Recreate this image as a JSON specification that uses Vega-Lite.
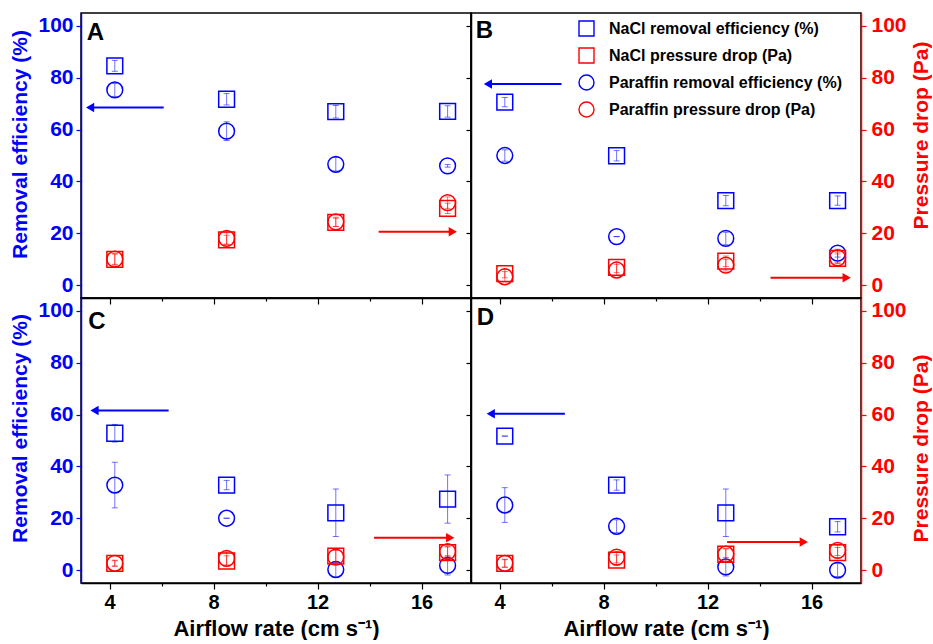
{
  "$schema": "https://vega.github.io/schema/vega-lite/v6.json",
  "background": "white",
  "padding": {"left": 9, "top": 12, "right": 0, "bottom": 0},
  "columns": 2,
  "spacing": 0,
  "bounds": "flush",
  "datasets": {
    "obs": [
      {"panel": "A", "series": "NaCl removal efficiency (%)", "kind": "eff", "x": 4.2, "y": 84.6, "lo": 82.5, "hi": 86.7},
      {"panel": "A", "series": "NaCl removal efficiency (%)", "kind": "eff", "x": 8.5, "y": 71.7, "lo": 69.5, "hi": 73.9},
      {"panel": "A", "series": "NaCl removal efficiency (%)", "kind": "eff", "x": 12.7, "y": 66.9, "lo": 64.5, "hi": 69.3},
      {"panel": "A", "series": "NaCl removal efficiency (%)", "kind": "eff", "x": 17.0, "y": 67.0, "lo": 64.8, "hi": 69.2},
      {"panel": "A", "series": "Paraffin removal efficiency (%)", "kind": "eff", "x": 4.2, "y": 75.3, "lo": 72.8, "hi": 77.8},
      {"panel": "A", "series": "Paraffin removal efficiency (%)", "kind": "eff", "x": 8.5, "y": 59.4, "lo": 55.8, "hi": 63.0},
      {"panel": "A", "series": "Paraffin removal efficiency (%)", "kind": "eff", "x": 12.7, "y": 46.6, "lo": 44.0, "hi": 49.2},
      {"panel": "A", "series": "Paraffin removal efficiency (%)", "kind": "eff", "x": 17.0, "y": 46.0, "lo": 45.5, "hi": 46.5},
      {"panel": "A", "series": "NaCl pressure drop (Pa)", "kind": "pres", "x": 4.2, "y": 9.9, "lo": 7.7, "hi": 12.1},
      {"panel": "A", "series": "NaCl pressure drop (Pa)", "kind": "pres", "x": 8.5, "y": 17.4, "lo": 15.6, "hi": 19.2},
      {"panel": "A", "series": "NaCl pressure drop (Pa)", "kind": "pres", "x": 12.7, "y": 24.2, "lo": 22.6, "hi": 25.8},
      {"panel": "A", "series": "NaCl pressure drop (Pa)", "kind": "pres", "x": 17.0, "y": 29.6, "lo": 27.6, "hi": 31.6},
      {"panel": "A", "series": "Paraffin pressure drop (Pa)", "kind": "pres", "x": 4.2, "y": 10.0, "lo": 8.0, "hi": 12.0},
      {"panel": "A", "series": "Paraffin pressure drop (Pa)", "kind": "pres", "x": 8.5, "y": 18.0, "lo": 15.8, "hi": 20.2},
      {"panel": "A", "series": "Paraffin pressure drop (Pa)", "kind": "pres", "x": 12.7, "y": 24.4, "lo": 22.6, "hi": 26.2},
      {"panel": "A", "series": "Paraffin pressure drop (Pa)", "kind": "pres", "x": 17.0, "y": 31.8, "lo": 29.6, "hi": 34.0},

      {"panel": "B", "series": "NaCl removal efficiency (%)", "kind": "eff", "x": 4.2, "y": 70.6, "lo": 68.8, "hi": 72.4},
      {"panel": "B", "series": "NaCl removal efficiency (%)", "kind": "eff", "x": 8.5, "y": 49.9, "lo": 47.9, "hi": 51.9},
      {"panel": "B", "series": "NaCl removal efficiency (%)", "kind": "eff", "x": 12.7, "y": 32.6, "lo": 30.6, "hi": 34.6},
      {"panel": "B", "series": "NaCl removal efficiency (%)", "kind": "eff", "x": 17.0, "y": 32.6, "lo": 30.8, "hi": 34.4},
      {"panel": "B", "series": "Paraffin removal efficiency (%)", "kind": "eff", "x": 4.2, "y": 50.0, "lo": 47.8, "hi": 52.2},
      {"panel": "B", "series": "Paraffin removal efficiency (%)", "kind": "eff", "x": 8.5, "y": 18.7, "lo": 18.7, "hi": 18.7},
      {"panel": "B", "series": "Paraffin removal efficiency (%)", "kind": "eff", "x": 12.7, "y": 18.0, "lo": 15.6, "hi": 20.4},
      {"panel": "B", "series": "Paraffin removal efficiency (%)", "kind": "eff", "x": 17.0, "y": 12.3, "lo": 10.8, "hi": 13.8},
      {"panel": "B", "series": "NaCl pressure drop (Pa)", "kind": "pres", "x": 4.2, "y": 4.4, "lo": 2.8, "hi": 6.0},
      {"panel": "B", "series": "NaCl pressure drop (Pa)", "kind": "pres", "x": 8.5, "y": 6.8, "lo": 4.8, "hi": 8.8},
      {"panel": "B", "series": "NaCl pressure drop (Pa)", "kind": "pres", "x": 12.7, "y": 9.2, "lo": 7.2, "hi": 11.2},
      {"panel": "B", "series": "NaCl pressure drop (Pa)", "kind": "pres", "x": 17.0, "y": 10.3, "lo": 8.6, "hi": 12.0},
      {"panel": "B", "series": "Paraffin pressure drop (Pa)", "kind": "pres", "x": 4.2, "y": 3.2, "lo": 1.2, "hi": 5.2},
      {"panel": "B", "series": "Paraffin pressure drop (Pa)", "kind": "pres", "x": 8.5, "y": 5.8, "lo": 3.6, "hi": 8.0},
      {"panel": "B", "series": "Paraffin pressure drop (Pa)", "kind": "pres", "x": 12.7, "y": 7.7, "lo": 5.4, "hi": 10.0},
      {"panel": "B", "series": "Paraffin pressure drop (Pa)", "kind": "pres", "x": 17.0, "y": 10.5, "lo": 8.3, "hi": 12.7},

      {"panel": "C", "series": "NaCl removal efficiency (%)", "kind": "eff", "x": 4.2, "y": 52.8, "lo": 49.4, "hi": 56.2},
      {"panel": "C", "series": "NaCl removal efficiency (%)", "kind": "eff", "x": 8.5, "y": 32.8, "lo": 31.0, "hi": 34.6},
      {"panel": "C", "series": "NaCl removal efficiency (%)", "kind": "eff", "x": 12.7, "y": 22.1, "lo": 12.9, "hi": 31.3},
      {"panel": "C", "series": "NaCl removal efficiency (%)", "kind": "eff", "x": 17.0, "y": 27.4, "lo": 18.1, "hi": 36.7},
      {"panel": "C", "series": "Paraffin removal efficiency (%)", "kind": "eff", "x": 4.2, "y": 32.8, "lo": 24.0, "hi": 41.6},
      {"panel": "C", "series": "Paraffin removal efficiency (%)", "kind": "eff", "x": 8.5, "y": 20.0, "lo": 20.0, "hi": 20.0},
      {"panel": "C", "series": "Paraffin removal efficiency (%)", "kind": "eff", "x": 12.7, "y": 0.2, "lo": -2.8, "hi": 3.2},
      {"panel": "C", "series": "Paraffin removal efficiency (%)", "kind": "eff", "x": 17.0, "y": 1.8, "lo": -1.9, "hi": 5.5},
      {"panel": "C", "series": "NaCl pressure drop (Pa)", "kind": "pres", "x": 4.2, "y": 2.6, "lo": 1.6, "hi": 3.6},
      {"panel": "C", "series": "NaCl pressure drop (Pa)", "kind": "pres", "x": 8.5, "y": 3.5, "lo": 1.5, "hi": 5.5},
      {"panel": "C", "series": "NaCl pressure drop (Pa)", "kind": "pres", "x": 12.7, "y": 5.4, "lo": 3.0, "hi": 7.8},
      {"panel": "C", "series": "NaCl pressure drop (Pa)", "kind": "pres", "x": 17.0, "y": 6.7, "lo": 4.5, "hi": 8.9},
      {"panel": "C", "series": "Paraffin pressure drop (Pa)", "kind": "pres", "x": 4.2, "y": 2.6, "lo": 1.4, "hi": 3.8},
      {"panel": "C", "series": "Paraffin pressure drop (Pa)", "kind": "pres", "x": 8.5, "y": 4.5, "lo": 2.0, "hi": 7.0},
      {"panel": "C", "series": "Paraffin pressure drop (Pa)", "kind": "pres", "x": 12.7, "y": 5.0, "lo": 2.4, "hi": 7.6},
      {"panel": "C", "series": "Paraffin pressure drop (Pa)", "kind": "pres", "x": 17.0, "y": 7.1, "lo": 5.1, "hi": 9.1},

      {"panel": "D", "series": "NaCl removal efficiency (%)", "kind": "eff", "x": 4.2, "y": 51.7, "lo": 51.7, "hi": 51.7},
      {"panel": "D", "series": "NaCl removal efficiency (%)", "kind": "eff", "x": 8.5, "y": 32.8, "lo": 30.8, "hi": 34.8},
      {"panel": "D", "series": "NaCl removal efficiency (%)", "kind": "eff", "x": 12.7, "y": 22.1, "lo": 12.9, "hi": 31.3},
      {"panel": "D", "series": "NaCl removal efficiency (%)", "kind": "eff", "x": 17.0, "y": 16.7, "lo": 14.7, "hi": 18.7},
      {"panel": "D", "series": "Paraffin removal efficiency (%)", "kind": "eff", "x": 4.2, "y": 25.1, "lo": 18.4, "hi": 31.8},
      {"panel": "D", "series": "Paraffin removal efficiency (%)", "kind": "eff", "x": 8.5, "y": 16.9, "lo": 14.4, "hi": 19.4},
      {"panel": "D", "series": "Paraffin removal efficiency (%)", "kind": "eff", "x": 12.7, "y": 1.2, "lo": -2.3, "hi": 4.7},
      {"panel": "D", "series": "Paraffin removal efficiency (%)", "kind": "eff", "x": 17.0, "y": 0.0, "lo": -2.5, "hi": 2.5},
      {"panel": "D", "series": "NaCl pressure drop (Pa)", "kind": "pres", "x": 4.2, "y": 2.6, "lo": 1.2, "hi": 4.0},
      {"panel": "D", "series": "NaCl pressure drop (Pa)", "kind": "pres", "x": 8.5, "y": 3.8, "lo": 1.8, "hi": 5.8},
      {"panel": "D", "series": "NaCl pressure drop (Pa)", "kind": "pres", "x": 12.7, "y": 6.1, "lo": 4.1, "hi": 8.1},
      {"panel": "D", "series": "NaCl pressure drop (Pa)", "kind": "pres", "x": 17.0, "y": 6.7, "lo": 4.7, "hi": 8.7},
      {"panel": "D", "series": "Paraffin pressure drop (Pa)", "kind": "pres", "x": 4.2, "y": 2.6, "lo": 1.0, "hi": 4.2},
      {"panel": "D", "series": "Paraffin pressure drop (Pa)", "kind": "pres", "x": 8.5, "y": 5.0, "lo": 2.8, "hi": 7.2},
      {"panel": "D", "series": "Paraffin pressure drop (Pa)", "kind": "pres", "x": 12.7, "y": 6.1, "lo": 3.9, "hi": 8.3},
      {"panel": "D", "series": "Paraffin pressure drop (Pa)", "kind": "pres", "x": 17.0, "y": 7.6, "lo": 5.6, "hi": 9.6}
    ],
    "arrows": [
      {"panel": "A", "kind": "eff", "xl": 3.25, "xr": 6.08, "y": 68.5},
      {"panel": "A", "kind": "pres", "xl": 14.35, "xr": 17.2, "y": 20.6},
      {"panel": "B", "kind": "eff", "xl": 3.55, "xr": 6.38, "y": 77.6},
      {"panel": "B", "kind": "pres", "xl": 14.42, "xr": 17.35, "y": 2.8},
      {"panel": "C", "kind": "eff", "xl": 3.42, "xr": 6.27, "y": 61.6},
      {"panel": "C", "kind": "pres", "xl": 14.17, "xr": 17.1, "y": 12.5},
      {"panel": "D", "kind": "eff", "xl": 3.66, "xr": 6.51, "y": 60.3},
      {"panel": "D", "kind": "pres", "xl": 12.75, "xr": 15.7, "y": 10.8}
    ]
  },
  "concat": [
    {
      "width": 390, "height": 285,
      "resolve": {"scale": {"y": "independent"}},
      "layer": [
        {"layer": [
          {"data": {"name": "obs"}, "transform": [{"filter": "datum.panel === 'A' && datum.kind === 'eff'"}],
           "mark": {"type": "rule", "color": "#0000ff", "strokeWidth": 1, "opacity": 0.55},
           "encoding": {
             "x": {"field": "x", "type": "quantitative", "scale": {"domain": [2.9, 17.9], "nice": false, "zero": false},
                   "axis": {"values": [4, 6, 8, 10, 12, 14, 16], "labels": false, "title": null, "domainColor": "black", "tickColor": "black", "tickSize": {"condition": {"test": "datum.value % 4 === 0", "value": 6}, "value": 3}}},
             "y": {"field": "lo", "type": "quantitative", "scale": {"domain": [-5, 105], "nice": false, "zero": false},
                   "axis": {"orient": "left", "values": [0, 10, 20, 30, 40, 50, 60, 70, 80, 90, 100], "labelExpr": "datum.value % 20 === 0 ? datum.label : ''", "title": "Removal efficiency (%)", "titleY": 131, "domainColor": "#0000ff", "tickColor": "#0000ff", "labelColor": "#0000ff", "titleColor": "#0000ff", "labelFontSize": 21, "titleFontSize": 21, "titlePadding": 7, "tickSize": {"condition": {"test": "datum.value % 20 === 0", "value": 5}, "value": 3}}},
             "y2": {"field": "hi"}
           }},
          {"data": {"name": "obs"}, "transform": [{"filter": "datum.panel === 'A' && datum.kind === 'eff'"}],
           "mark": {"type": "tick", "orient": "horizontal", "color": "#0000ff", "size": 6, "thickness": 1, "opacity": 0.55},
           "encoding": {"x": {"field": "x", "type": "quantitative"}, "y": {"field": "lo", "type": "quantitative"}}},
          {"data": {"name": "obs"}, "transform": [{"filter": "datum.panel === 'A' && datum.kind === 'eff'"}],
           "mark": {"type": "tick", "orient": "horizontal", "color": "#0000ff", "size": 6, "thickness": 1, "opacity": 0.55},
           "encoding": {"x": {"field": "x", "type": "quantitative"}, "y": {"field": "hi", "type": "quantitative"}}},
          {"data": {"name": "obs"}, "transform": [{"filter": "datum.panel === 'A' && datum.kind === 'eff'"}],
           "mark": {"type": "point", "size": 250, "strokeWidth": 1.5, "opacity": 1},
           "encoding": {
             "x": {"field": "x", "type": "quantitative"},
             "y": {"field": "y", "type": "quantitative"},
             "color": {"field": "series", "type": "nominal", "title": null, "scale": {"domain": ["NaCl removal efficiency (%)", "NaCl pressure drop (Pa)", "Paraffin removal efficiency (%)", "Paraffin pressure drop (Pa)"], "range": ["#0000ff", "#ff0000", "#0000ff", "#ff0000"]}},
             "shape": {"field": "series", "type": "nominal", "title": null, "scale": {"domain": ["NaCl removal efficiency (%)", "NaCl pressure drop (Pa)", "Paraffin removal efficiency (%)", "Paraffin pressure drop (Pa)"], "range": ["square", "square", "circle", "circle"]}}
           }},
          {"data": {"name": "arrows"}, "transform": [{"filter": "datum.panel === 'A' && datum.kind === 'eff'"}],
           "mark": {"type": "rule", "color": "#0000ff", "strokeWidth": 2},
           "encoding": {"x": {"field": "xl", "type": "quantitative"}, "x2": {"field": "xr"}, "y": {"field": "y", "type": "quantitative"}}},
          {"data": {"name": "arrows"}, "transform": [{"filter": "datum.panel === 'A' && datum.kind === 'eff'"}],
           "mark": {"type": "point", "shape": "triangle-left", "filled": true, "color": "#0000ff", "size": 90, "opacity": 1},
           "encoding": {"x": {"field": "xl", "type": "quantitative"}, "y": {"field": "y", "type": "quantitative"}}},
          {"data": {"values": [{"letter": "A"}]},
           "mark": {"type": "text", "fontSize": 24, "fontWeight": "bold", "align": "left", "baseline": "top", "color": "black"},
           "encoding": {"text": {"field": "letter"}, "x": {"datum": 3.12, "type": "quantitative"}, "y": {"datum": 102, "type": "quantitative"}}}
        ]},
        {"layer": [
          {"data": {"name": "obs"}, "transform": [{"filter": "datum.panel === 'A' && datum.kind === 'pres'"}],
           "mark": {"type": "rule", "color": "#ff0000", "strokeWidth": 1, "opacity": 0.55},
           "encoding": {
             "x": {"field": "x", "type": "quantitative"},
             "y": {"field": "lo", "type": "quantitative", "scale": {"domain": [-5, 105], "nice": false, "zero": false}, "axis": null},
             "y2": {"field": "hi"}
           }},
          {"data": {"name": "obs"}, "transform": [{"filter": "datum.panel === 'A' && datum.kind === 'pres'"}],
           "mark": {"type": "tick", "orient": "horizontal", "color": "#ff0000", "size": 6, "thickness": 1, "opacity": 0.55},
           "encoding": {"x": {"field": "x", "type": "quantitative"}, "y": {"field": "lo", "type": "quantitative", "axis": null}}},
          {"data": {"name": "obs"}, "transform": [{"filter": "datum.panel === 'A' && datum.kind === 'pres'"}],
           "mark": {"type": "tick", "orient": "horizontal", "color": "#ff0000", "size": 6, "thickness": 1, "opacity": 0.55},
           "encoding": {"x": {"field": "x", "type": "quantitative"}, "y": {"field": "hi", "type": "quantitative", "axis": null}}},
          {"data": {"name": "obs"}, "transform": [{"filter": "datum.panel === 'A' && datum.kind === 'pres'"}],
           "mark": {"type": "point", "size": 250, "strokeWidth": 1.5, "opacity": 1},
           "encoding": {
             "x": {"field": "x", "type": "quantitative"},
             "y": {"field": "y", "type": "quantitative", "axis": null},
             "color": {"field": "series", "type": "nominal", "title": null, "scale": {"domain": ["NaCl removal efficiency (%)", "NaCl pressure drop (Pa)", "Paraffin removal efficiency (%)", "Paraffin pressure drop (Pa)"], "range": ["#0000ff", "#ff0000", "#0000ff", "#ff0000"]}},
             "shape": {"field": "series", "type": "nominal", "title": null, "scale": {"domain": ["NaCl removal efficiency (%)", "NaCl pressure drop (Pa)", "Paraffin removal efficiency (%)", "Paraffin pressure drop (Pa)"], "range": ["square", "square", "circle", "circle"]}}
           }},
          {"data": {"name": "arrows"}, "transform": [{"filter": "datum.panel === 'A' && datum.kind === 'pres'"}],
           "mark": {"type": "rule", "color": "#ff0000", "strokeWidth": 2},
           "encoding": {"x": {"field": "xl", "type": "quantitative"}, "x2": {"field": "xr"}, "y": {"field": "y", "type": "quantitative", "axis": null}}},
          {"data": {"name": "arrows"}, "transform": [{"filter": "datum.panel === 'A' && datum.kind === 'pres'"}],
           "mark": {"type": "point", "shape": "triangle-right", "filled": true, "color": "#ff0000", "size": 90, "opacity": 1},
           "encoding": {"x": {"field": "xr", "type": "quantitative"}, "y": {"field": "y", "type": "quantitative", "axis": null}}}
        ]}
      ]
    },
    {
      "width": 390, "height": 285,
      "resolve": {"scale": {"y": "independent"}},
      "layer": [
        {"layer": [
          {"data": {"name": "obs"}, "transform": [{"filter": "datum.panel === 'B' && datum.kind === 'eff'"}],
           "mark": {"type": "rule", "color": "#0000ff", "strokeWidth": 1, "opacity": 0.55},
           "encoding": {
             "x": {"field": "x", "type": "quantitative", "scale": {"domain": [2.9, 17.9], "nice": false, "zero": false},
                   "axis": {"values": [4, 6, 8, 10, 12, 14, 16], "labels": false, "title": null, "domainColor": "black", "tickColor": "black", "tickSize": {"condition": {"test": "datum.value % 4 === 0", "value": 6}, "value": 3}}},
             "y": {"field": "lo", "type": "quantitative", "scale": {"domain": [-5, 105], "nice": false, "zero": false},
                   "axis": {"orient": "left", "values": [0, 10, 20, 30, 40, 50, 60, 70, 80, 90, 100], "labels": false, "title": null, "domainColor": "black", "tickColor": "black", "tickSize": {"condition": {"test": "datum.value % 20 === 0", "value": 5}, "value": 3}}},
             "y2": {"field": "hi"}
           }},
          {"data": {"name": "obs"}, "transform": [{"filter": "datum.panel === 'B' && datum.kind === 'eff'"}],
           "mark": {"type": "tick", "orient": "horizontal", "color": "#0000ff", "size": 6, "thickness": 1, "opacity": 0.55},
           "encoding": {"x": {"field": "x", "type": "quantitative"}, "y": {"field": "lo", "type": "quantitative"}}},
          {"data": {"name": "obs"}, "transform": [{"filter": "datum.panel === 'B' && datum.kind === 'eff'"}],
           "mark": {"type": "tick", "orient": "horizontal", "color": "#0000ff", "size": 6, "thickness": 1, "opacity": 0.55},
           "encoding": {"x": {"field": "x", "type": "quantitative"}, "y": {"field": "hi", "type": "quantitative"}}},
          {"data": {"name": "obs"}, "transform": [{"filter": "datum.panel === 'B' && datum.kind === 'eff'"}],
           "mark": {"type": "point", "size": 250, "strokeWidth": 1.5, "opacity": 1},
           "encoding": {
             "x": {"field": "x", "type": "quantitative"},
             "y": {"field": "y", "type": "quantitative"},
             "color": {"field": "series", "type": "nominal", "title": null, "scale": {"domain": ["NaCl removal efficiency (%)", "NaCl pressure drop (Pa)", "Paraffin removal efficiency (%)", "Paraffin pressure drop (Pa)"], "range": ["#0000ff", "#ff0000", "#0000ff", "#ff0000"]}},
             "shape": {"field": "series", "type": "nominal", "title": null, "scale": {"domain": ["NaCl removal efficiency (%)", "NaCl pressure drop (Pa)", "Paraffin removal efficiency (%)", "Paraffin pressure drop (Pa)"], "range": ["square", "square", "circle", "circle"]}}
           }},
          {"data": {"name": "arrows"}, "transform": [{"filter": "datum.panel === 'B' && datum.kind === 'eff'"}],
           "mark": {"type": "rule", "color": "#0000ff", "strokeWidth": 2},
           "encoding": {"x": {"field": "xl", "type": "quantitative"}, "x2": {"field": "xr"}, "y": {"field": "y", "type": "quantitative"}}},
          {"data": {"name": "arrows"}, "transform": [{"filter": "datum.panel === 'B' && datum.kind === 'eff'"}],
           "mark": {"type": "point", "shape": "triangle-left", "filled": true, "color": "#0000ff", "size": 90, "opacity": 1},
           "encoding": {"x": {"field": "xl", "type": "quantitative"}, "y": {"field": "y", "type": "quantitative"}}},
          {"data": {"values": [{"letter": "B"}]},
           "mark": {"type": "text", "fontSize": 24, "fontWeight": "bold", "align": "left", "baseline": "top", "color": "black"},
           "encoding": {"text": {"field": "letter"}, "x": {"datum": 3.08, "type": "quantitative"}, "y": {"datum": 102.5, "type": "quantitative"}}}
        ]},
        {"layer": [
          {"data": {"name": "obs"}, "transform": [{"filter": "datum.panel === 'B' && datum.kind === 'pres'"}],
           "mark": {"type": "rule", "color": "#ff0000", "strokeWidth": 1, "opacity": 0.55},
           "encoding": {
             "x": {"field": "x", "type": "quantitative"},
             "y": {"field": "lo", "type": "quantitative", "scale": {"domain": [-5, 105], "nice": false, "zero": false},
                   "axis": {"orient": "right", "values": [0, 10, 20, 30, 40, 50, 60, 70, 80, 90, 100], "labelExpr": "datum.value % 20 === 0 ? datum.label : ''", "title": "Pressure drop (Pa)", "titleAngle": 270, "titleBaseline": "top", "titleY": 122, "domainColor": "#ff0000", "tickColor": "#ff0000", "labelColor": "#ff0000", "titleColor": "#ff0000", "labelFontSize": 21, "labelPadding": 5, "titleFontSize": 21, "titlePadding": 4, "tickSize": {"condition": {"test": "datum.value % 20 === 0", "value": 5}, "value": 3}}},
             "y2": {"field": "hi"}
           }},
          {"data": {"name": "obs"}, "transform": [{"filter": "datum.panel === 'B' && datum.kind === 'pres'"}],
           "mark": {"type": "tick", "orient": "horizontal", "color": "#ff0000", "size": 6, "thickness": 1, "opacity": 0.55},
           "encoding": {"x": {"field": "x", "type": "quantitative"}, "y": {"field": "lo", "type": "quantitative"}}},
          {"data": {"name": "obs"}, "transform": [{"filter": "datum.panel === 'B' && datum.kind === 'pres'"}],
           "mark": {"type": "tick", "orient": "horizontal", "color": "#ff0000", "size": 6, "thickness": 1, "opacity": 0.55},
           "encoding": {"x": {"field": "x", "type": "quantitative"}, "y": {"field": "hi", "type": "quantitative"}}},
          {"data": {"name": "obs"}, "transform": [{"filter": "datum.panel === 'B' && datum.kind === 'pres'"}],
           "mark": {"type": "point", "size": 250, "strokeWidth": 1.5, "opacity": 1},
           "encoding": {
             "x": {"field": "x", "type": "quantitative"},
             "y": {"field": "y", "type": "quantitative"},
             "color": {"field": "series", "type": "nominal", "title": null, "scale": {"domain": ["NaCl removal efficiency (%)", "NaCl pressure drop (Pa)", "Paraffin removal efficiency (%)", "Paraffin pressure drop (Pa)"], "range": ["#0000ff", "#ff0000", "#0000ff", "#ff0000"]}},
             "shape": {"field": "series", "type": "nominal", "title": null, "scale": {"domain": ["NaCl removal efficiency (%)", "NaCl pressure drop (Pa)", "Paraffin removal efficiency (%)", "Paraffin pressure drop (Pa)"], "range": ["square", "square", "circle", "circle"]}}
           }},
          {"data": {"name": "arrows"}, "transform": [{"filter": "datum.panel === 'B' && datum.kind === 'pres'"}],
           "mark": {"type": "rule", "color": "#ff0000", "strokeWidth": 2},
           "encoding": {"x": {"field": "xl", "type": "quantitative"}, "x2": {"field": "xr"}, "y": {"field": "y", "type": "quantitative"}}},
          {"data": {"name": "arrows"}, "transform": [{"filter": "datum.panel === 'B' && datum.kind === 'pres'"}],
           "mark": {"type": "point", "shape": "triangle-right", "filled": true, "color": "#ff0000", "size": 90, "opacity": 1},
           "encoding": {"x": {"field": "xr", "type": "quantitative"}, "y": {"field": "y", "type": "quantitative"}}}
        ]}
      ]
    },
    {
      "width": 390, "height": 285,
      "resolve": {"scale": {"y": "independent"}},
      "layer": [
        {"layer": [
          {"data": {"name": "obs"}, "transform": [{"filter": "datum.panel === 'C' && datum.kind === 'eff'"}],
           "mark": {"type": "rule", "color": "#0000ff", "strokeWidth": 1, "opacity": 0.55},
           "encoding": {
             "x": {"field": "x", "type": "quantitative", "scale": {"domain": [2.9, 17.9], "nice": false, "zero": false},
                   "axis": {"values": [4, 6, 8, 10, 12, 14, 16], "labelExpr": "datum.value % 4 === 0 ? datum.label : ''", "title": "Airflow rate (cm s⁻¹)", "domainColor": "black", "tickColor": "black", "labelColor": "black", "titleColor": "black", "labelFontSize": 20, "titleFontSize": 22, "labelPadding": 3, "titlePadding": 6, "tickSize": {"condition": {"test": "datum.value % 4 === 0", "value": 6}, "value": 3}}},
             "y": {"field": "lo", "type": "quantitative", "scale": {"domain": [-5, 105], "nice": false, "zero": false},
                   "axis": {"orient": "left", "values": [0, 10, 20, 30, 40, 50, 60, 70, 80, 90, 100], "labelExpr": "datum.value % 20 === 0 ? datum.label : ''", "title": "Removal efficiency (%)", "titleY": 130, "domainColor": "#0000ff", "tickColor": "#0000ff", "labelColor": "#0000ff", "titleColor": "#0000ff", "labelFontSize": 21, "titleFontSize": 21, "titlePadding": 7, "tickSize": {"condition": {"test": "datum.value % 20 === 0", "value": 5}, "value": 3}}},
             "y2": {"field": "hi"}
           }},
          {"data": {"name": "obs"}, "transform": [{"filter": "datum.panel === 'C' && datum.kind === 'eff'"}],
           "mark": {"type": "tick", "orient": "horizontal", "color": "#0000ff", "size": 6, "thickness": 1, "opacity": 0.55},
           "encoding": {"x": {"field": "x", "type": "quantitative"}, "y": {"field": "lo", "type": "quantitative"}}},
          {"data": {"name": "obs"}, "transform": [{"filter": "datum.panel === 'C' && datum.kind === 'eff'"}],
           "mark": {"type": "tick", "orient": "horizontal", "color": "#0000ff", "size": 6, "thickness": 1, "opacity": 0.55},
           "encoding": {"x": {"field": "x", "type": "quantitative"}, "y": {"field": "hi", "type": "quantitative"}}},
          {"data": {"name": "obs"}, "transform": [{"filter": "datum.panel === 'C' && datum.kind === 'eff'"}],
           "mark": {"type": "point", "size": 250, "strokeWidth": 1.5, "opacity": 1},
           "encoding": {
             "x": {"field": "x", "type": "quantitative"},
             "y": {"field": "y", "type": "quantitative"},
             "color": {"field": "series", "type": "nominal", "title": null, "scale": {"domain": ["NaCl removal efficiency (%)", "NaCl pressure drop (Pa)", "Paraffin removal efficiency (%)", "Paraffin pressure drop (Pa)"], "range": ["#0000ff", "#ff0000", "#0000ff", "#ff0000"]}},
             "shape": {"field": "series", "type": "nominal", "title": null, "scale": {"domain": ["NaCl removal efficiency (%)", "NaCl pressure drop (Pa)", "Paraffin removal efficiency (%)", "Paraffin pressure drop (Pa)"], "range": ["square", "square", "circle", "circle"]}}
           }},
          {"data": {"name": "arrows"}, "transform": [{"filter": "datum.panel === 'C' && datum.kind === 'eff'"}],
           "mark": {"type": "rule", "color": "#0000ff", "strokeWidth": 2},
           "encoding": {"x": {"field": "xl", "type": "quantitative"}, "x2": {"field": "xr"}, "y": {"field": "y", "type": "quantitative"}}},
          {"data": {"name": "arrows"}, "transform": [{"filter": "datum.panel === 'C' && datum.kind === 'eff'"}],
           "mark": {"type": "point", "shape": "triangle-left", "filled": true, "color": "#0000ff", "size": 90, "opacity": 1},
           "encoding": {"x": {"field": "xl", "type": "quantitative"}, "y": {"field": "y", "type": "quantitative"}}},
          {"data": {"values": [{"letter": "C"}]},
           "mark": {"type": "text", "fontSize": 24, "fontWeight": "bold", "align": "left", "baseline": "top", "color": "black"},
           "encoding": {"text": {"field": "letter"}, "x": {"datum": 3.18, "type": "quantitative"}, "y": {"datum": 100.5, "type": "quantitative"}}}
        ]},
        {"layer": [
          {"data": {"name": "obs"}, "transform": [{"filter": "datum.panel === 'C' && datum.kind === 'pres'"}],
           "mark": {"type": "rule", "color": "#ff0000", "strokeWidth": 1, "opacity": 0.55},
           "encoding": {
             "x": {"field": "x", "type": "quantitative"},
             "y": {"field": "lo", "type": "quantitative", "scale": {"domain": [-5, 105], "nice": false, "zero": false}, "axis": null},
             "y2": {"field": "hi"}
           }},
          {"data": {"name": "obs"}, "transform": [{"filter": "datum.panel === 'C' && datum.kind === 'pres'"}],
           "mark": {"type": "tick", "orient": "horizontal", "color": "#ff0000", "size": 6, "thickness": 1, "opacity": 0.55},
           "encoding": {"x": {"field": "x", "type": "quantitative"}, "y": {"field": "lo", "type": "quantitative", "axis": null}}},
          {"data": {"name": "obs"}, "transform": [{"filter": "datum.panel === 'C' && datum.kind === 'pres'"}],
           "mark": {"type": "tick", "orient": "horizontal", "color": "#ff0000", "size": 6, "thickness": 1, "opacity": 0.55},
           "encoding": {"x": {"field": "x", "type": "quantitative"}, "y": {"field": "hi", "type": "quantitative", "axis": null}}},
          {"data": {"name": "obs"}, "transform": [{"filter": "datum.panel === 'C' && datum.kind === 'pres'"}],
           "mark": {"type": "point", "size": 250, "strokeWidth": 1.5, "opacity": 1},
           "encoding": {
             "x": {"field": "x", "type": "quantitative"},
             "y": {"field": "y", "type": "quantitative", "axis": null},
             "color": {"field": "series", "type": "nominal", "title": null, "scale": {"domain": ["NaCl removal efficiency (%)", "NaCl pressure drop (Pa)", "Paraffin removal efficiency (%)", "Paraffin pressure drop (Pa)"], "range": ["#0000ff", "#ff0000", "#0000ff", "#ff0000"]}},
             "shape": {"field": "series", "type": "nominal", "title": null, "scale": {"domain": ["NaCl removal efficiency (%)", "NaCl pressure drop (Pa)", "Paraffin removal efficiency (%)", "Paraffin pressure drop (Pa)"], "range": ["square", "square", "circle", "circle"]}}
           }},
          {"data": {"name": "arrows"}, "transform": [{"filter": "datum.panel === 'C' && datum.kind === 'pres'"}],
           "mark": {"type": "rule", "color": "#ff0000", "strokeWidth": 2},
           "encoding": {"x": {"field": "xl", "type": "quantitative"}, "x2": {"field": "xr"}, "y": {"field": "y", "type": "quantitative", "axis": null}}},
          {"data": {"name": "arrows"}, "transform": [{"filter": "datum.panel === 'C' && datum.kind === 'pres'"}],
           "mark": {"type": "point", "shape": "triangle-right", "filled": true, "color": "#ff0000", "size": 90, "opacity": 1},
           "encoding": {"x": {"field": "xr", "type": "quantitative"}, "y": {"field": "y", "type": "quantitative", "axis": null}}}
        ]}
      ]
    },
    {
      "width": 390, "height": 285,
      "resolve": {"scale": {"y": "independent"}},
      "layer": [
        {"layer": [
          {"data": {"name": "obs"}, "transform": [{"filter": "datum.panel === 'D' && datum.kind === 'eff'"}],
           "mark": {"type": "rule", "color": "#0000ff", "strokeWidth": 1, "opacity": 0.55},
           "encoding": {
             "x": {"field": "x", "type": "quantitative", "scale": {"domain": [2.9, 17.9], "nice": false, "zero": false},
                   "axis": {"values": [4, 6, 8, 10, 12, 14, 16], "labelExpr": "datum.value % 4 === 0 ? datum.label : ''", "title": "Airflow rate (cm s⁻¹)", "domainColor": "black", "tickColor": "black", "labelColor": "black", "titleColor": "black", "labelFontSize": 20, "titleFontSize": 22, "labelPadding": 3, "titlePadding": 6, "tickSize": {"condition": {"test": "datum.value % 4 === 0", "value": 6}, "value": 3}}},
             "y": {"field": "lo", "type": "quantitative", "scale": {"domain": [-5, 105], "nice": false, "zero": false},
                   "axis": {"orient": "left", "values": [0, 10, 20, 30, 40, 50, 60, 70, 80, 90, 100], "labels": false, "title": null, "domainColor": "black", "tickColor": "black", "tickSize": {"condition": {"test": "datum.value % 20 === 0", "value": 5}, "value": 3}}},
             "y2": {"field": "hi"}
           }},
          {"data": {"name": "obs"}, "transform": [{"filter": "datum.panel === 'D' && datum.kind === 'eff'"}],
           "mark": {"type": "tick", "orient": "horizontal", "color": "#0000ff", "size": 6, "thickness": 1, "opacity": 0.55},
           "encoding": {"x": {"field": "x", "type": "quantitative"}, "y": {"field": "lo", "type": "quantitative"}}},
          {"data": {"name": "obs"}, "transform": [{"filter": "datum.panel === 'D' && datum.kind === 'eff'"}],
           "mark": {"type": "tick", "orient": "horizontal", "color": "#0000ff", "size": 6, "thickness": 1, "opacity": 0.55},
           "encoding": {"x": {"field": "x", "type": "quantitative"}, "y": {"field": "hi", "type": "quantitative"}}},
          {"data": {"name": "obs"}, "transform": [{"filter": "datum.panel === 'D' && datum.kind === 'eff'"}],
           "mark": {"type": "point", "size": 250, "strokeWidth": 1.5, "opacity": 1},
           "encoding": {
             "x": {"field": "x", "type": "quantitative"},
             "y": {"field": "y", "type": "quantitative"},
             "color": {"field": "series", "type": "nominal", "title": null, "scale": {"domain": ["NaCl removal efficiency (%)", "NaCl pressure drop (Pa)", "Paraffin removal efficiency (%)", "Paraffin pressure drop (Pa)"], "range": ["#0000ff", "#ff0000", "#0000ff", "#ff0000"]}},
             "shape": {"field": "series", "type": "nominal", "title": null, "scale": {"domain": ["NaCl removal efficiency (%)", "NaCl pressure drop (Pa)", "Paraffin removal efficiency (%)", "Paraffin pressure drop (Pa)"], "range": ["square", "square", "circle", "circle"]}}
           }},
          {"data": {"name": "arrows"}, "transform": [{"filter": "datum.panel === 'D' && datum.kind === 'eff'"}],
           "mark": {"type": "rule", "color": "#0000ff", "strokeWidth": 2},
           "encoding": {"x": {"field": "xl", "type": "quantitative"}, "x2": {"field": "xr"}, "y": {"field": "y", "type": "quantitative"}}},
          {"data": {"name": "arrows"}, "transform": [{"filter": "datum.panel === 'D' && datum.kind === 'eff'"}],
           "mark": {"type": "point", "shape": "triangle-left", "filled": true, "color": "#0000ff", "size": 90, "opacity": 1},
           "encoding": {"x": {"field": "xl", "type": "quantitative"}, "y": {"field": "y", "type": "quantitative"}}},
          {"data": {"values": [{"letter": "D"}]},
           "mark": {"type": "text", "fontSize": 24, "fontWeight": "bold", "align": "left", "baseline": "top", "color": "black"},
           "encoding": {"text": {"field": "letter"}, "x": {"datum": 3.12, "type": "quantitative"}, "y": {"datum": 102, "type": "quantitative"}}}
        ]},
        {"layer": [
          {"data": {"name": "obs"}, "transform": [{"filter": "datum.panel === 'D' && datum.kind === 'pres'"}],
           "mark": {"type": "rule", "color": "#ff0000", "strokeWidth": 1, "opacity": 0.55},
           "encoding": {
             "x": {"field": "x", "type": "quantitative"},
             "y": {"field": "lo", "type": "quantitative", "scale": {"domain": [-5, 105], "nice": false, "zero": false},
                   "axis": {"orient": "right", "values": [0, 10, 20, 30, 40, 50, 60, 70, 80, 90, 100], "labelExpr": "datum.value % 20 === 0 ? datum.label : ''", "title": "Pressure drop (Pa)", "titleAngle": 270, "titleBaseline": "top", "titleY": 150, "domainColor": "#ff0000", "tickColor": "#ff0000", "labelColor": "#ff0000", "titleColor": "#ff0000", "labelFontSize": 21, "labelPadding": 5, "titleFontSize": 21, "titlePadding": 4, "tickSize": {"condition": {"test": "datum.value % 20 === 0", "value": 5}, "value": 3}}},
             "y2": {"field": "hi"}
           }},
          {"data": {"name": "obs"}, "transform": [{"filter": "datum.panel === 'D' && datum.kind === 'pres'"}],
           "mark": {"type": "tick", "orient": "horizontal", "color": "#ff0000", "size": 6, "thickness": 1, "opacity": 0.55},
           "encoding": {"x": {"field": "x", "type": "quantitative"}, "y": {"field": "lo", "type": "quantitative"}}},
          {"data": {"name": "obs"}, "transform": [{"filter": "datum.panel === 'D' && datum.kind === 'pres'"}],
           "mark": {"type": "tick", "orient": "horizontal", "color": "#ff0000", "size": 6, "thickness": 1, "opacity": 0.55},
           "encoding": {"x": {"field": "x", "type": "quantitative"}, "y": {"field": "hi", "type": "quantitative"}}},
          {"data": {"name": "obs"}, "transform": [{"filter": "datum.panel === 'D' && datum.kind === 'pres'"}],
           "mark": {"type": "point", "size": 250, "strokeWidth": 1.5, "opacity": 1},
           "encoding": {
             "x": {"field": "x", "type": "quantitative"},
             "y": {"field": "y", "type": "quantitative"},
             "color": {"field": "series", "type": "nominal", "title": null, "scale": {"domain": ["NaCl removal efficiency (%)", "NaCl pressure drop (Pa)", "Paraffin removal efficiency (%)", "Paraffin pressure drop (Pa)"], "range": ["#0000ff", "#ff0000", "#0000ff", "#ff0000"]}},
             "shape": {"field": "series", "type": "nominal", "title": null, "scale": {"domain": ["NaCl removal efficiency (%)", "NaCl pressure drop (Pa)", "Paraffin removal efficiency (%)", "Paraffin pressure drop (Pa)"], "range": ["square", "square", "circle", "circle"]}}
           }},
          {"data": {"name": "arrows"}, "transform": [{"filter": "datum.panel === 'D' && datum.kind === 'pres'"}],
           "mark": {"type": "rule", "color": "#ff0000", "strokeWidth": 2},
           "encoding": {"x": {"field": "xl", "type": "quantitative"}, "x2": {"field": "xr"}, "y": {"field": "y", "type": "quantitative"}}},
          {"data": {"name": "arrows"}, "transform": [{"filter": "datum.panel === 'D' && datum.kind === 'pres'"}],
           "mark": {"type": "point", "shape": "triangle-right", "filled": true, "color": "#ff0000", "size": 90, "opacity": 1},
           "encoding": {"x": {"field": "xr", "type": "quantitative"}, "y": {"field": "y", "type": "quantitative"}}}
        ]}
      ]
    }
  ],
  "config": {
    "font": "Liberation Sans",
    "view": {"stroke": "black", "strokeWidth": 1.5},
    "axis": {
      "labelFont": "Liberation Sans", "titleFont": "Liberation Sans",
      "labelFontWeight": "bold", "titleFontWeight": "bold",
      "labelOverlap": false, "labelFlush": false, "grid": false,
      "domainWidth": 1.5, "tickWidth": 1.2, "labelPadding": 3
    },
    "legend": {
      "orient": "none", "legendX": 497, "legendY": 7, "padding": 0,
      "labelFont": "Liberation Sans", "labelFontSize": 16, "labelFontWeight": "bold", "labelColor": "black", "labelLimit": 0,
      "symbolSize": 225, "symbolStrokeWidth": 1.4, "rowPadding": 6, "labelOffset": 14
    }
  }
}
